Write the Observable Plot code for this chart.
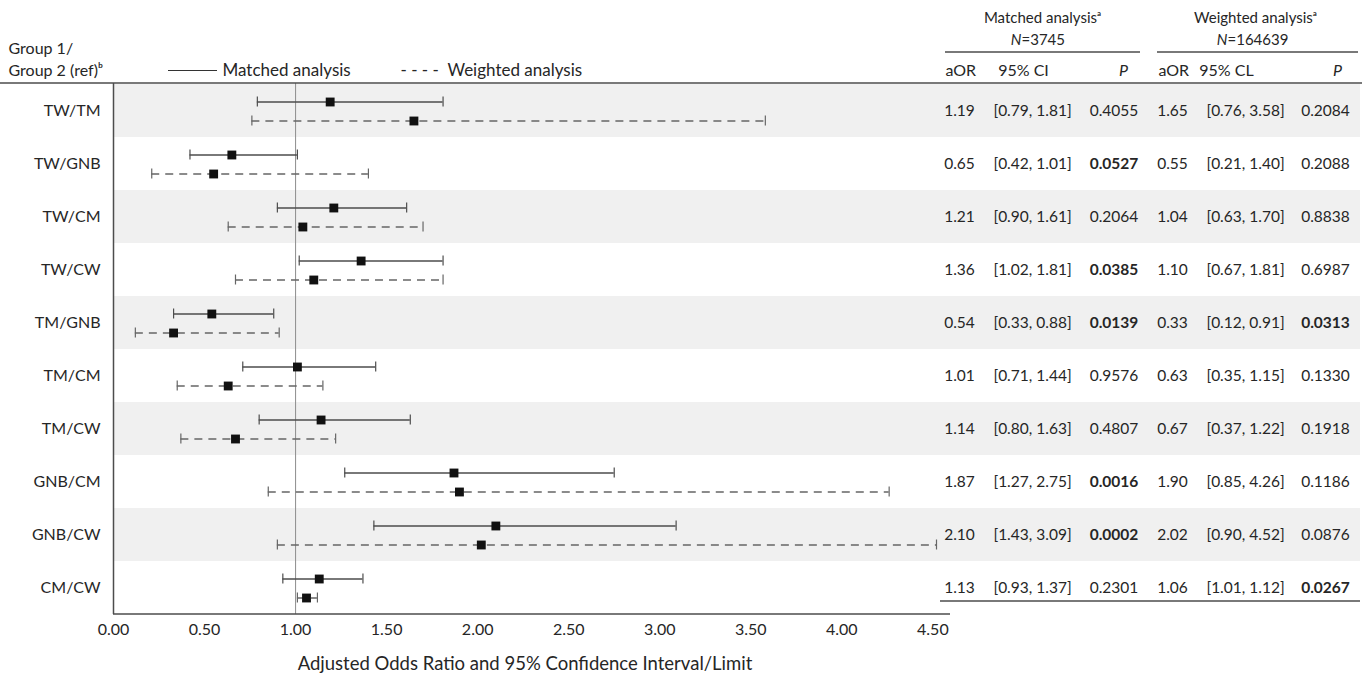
<!DOCTYPE html>
<html><head><meta charset="utf-8">
<script src="https://cdn.jsdelivr.net/npm/d3@7"></script>
<script src="https://cdn.jsdelivr.net/npm/@observablehq/plot@0.6"></script>
<style>
html,body{margin:0;padding:0;background:#fff;}
#chart{width:1365px;height:677px;position:relative;}
</style></head><body><div id="chart"></div>
<script>
// ---- data ----
const groups = ["TW/TM","TW/GNB","TW/CM","TW/CW","TM/GNB","TM/CM","TM/CW","GNB/CM","GNB/CW","CM/CW"];
const matchedAOR = [1.19,0.65,1.21,1.36,0.54,1.01,1.14,1.87,2.10,1.13];
const matchedLo  = [0.79,0.42,0.90,1.02,0.33,0.71,0.80,1.27,1.43,0.93];
const matchedHi  = [1.81,1.01,1.61,1.81,0.88,1.44,1.63,2.75,3.09,1.37];
const matchedP   = ["0.4055","0.0527","0.2064","0.0385","0.0139","0.9576","0.4807","0.0016","0.0002","0.2301"];
const matchedBold = [false,true,false,true,true,false,false,true,true,false];
const weightedAOR = [1.65,0.55,1.04,1.10,0.33,0.63,0.67,1.90,2.02,1.06];
const weightedLo  = [0.76,0.21,0.63,0.67,0.12,0.35,0.37,0.85,0.90,1.01];
const weightedHi  = [3.58,1.40,1.70,1.81,0.91,1.15,1.22,4.26,4.52,1.12];
const weightedP   = ["0.2084","0.2088","0.8838","0.6987","0.0313","0.1330","0.1918","0.1186","0.0876","0.0267"];
const weightedBold = [false,false,false,false,true,false,false,false,false,true];
const xTicks = [0,0.5,1,1.5,2,2.5,3,3.5,4,4.5];
const xMax = 4.52;
const xTitle = "Adjusted Odds Ratio and 95% Confidence Interval/Limit";
const matchedN = "3745", weightedN = "164639";

// ---- tables built from the arrays ----
const f2 = d3.format(".2f");
const shaded = groups.filter((_, i) => i % 2 === 0);
const matched = groups.map((g, i) => ({group: g, aor: matchedAOR[i], lo: matchedLo[i], hi: matchedHi[i], p: matchedP[i], bold: matchedBold[i]}));
const weighted = groups.map((g, i) => ({group: g, aor: weightedAOR[i], lo: weightedLo[i], hi: weightedHi[i], p: weightedP[i], bold: weightedBold[i]}));
const ci = d => `[${f2(d.lo)}, ${f2(d.hi)}]`;

const W = 1365, H = 677, mL = 113, mR = 429, mT = 83, mB = 63;
const ink = "#262626";
const line = "#4d4d4d", dash = "#666";

const txt = (label, o) => Plot.text([label], {text: d => d, fill: ink, lineAnchor: "middle", ...o});
const TL = {frameAnchor: "top-left"}, TR = {frameAnchor: "top-right"};

const body = (rows, o) => Plot.text(rows, {y: "group", frameAnchor: "right", textAnchor: "middle", lineAnchor: "middle", fill: ink, fontSize: 15.5, ...o});

const plot = Plot.plot({
  width: W, height: H,
  marginLeft: mL, marginRight: mR, marginTop: mT, marginBottom: mB,
  style: {fontFamily: "Lato, 'Open Sans', sans-serif", fontSize: "16px", color: ink, background: "#fff"},
  x: {domain: [0, xMax], ticks: xTicks, tickFormat: ".2f", tickSize: 0, tickPadding: 9, label: null},
  y: {domain: groups, padding: 0, tickSize: 0, tickPadding: 13, label: null},
  marks: [
    Plot.cell(shaded, {y: d => d, fill: "#f0f0f0", insetRight: -(W - 5 - (W - mR))}),
    Plot.ruleX([1], {stroke: "#8c8c8c", strokeWidth: 1}),
    Plot.ruleX([0], {stroke: line, strokeWidth: 1.5}),
    // matched (solid)
    Plot.ruleY(matched, {y: "group", x1: "lo", x2: "hi", dy: -9, stroke: line, strokeWidth: 1.3}),
    Plot.tickX(matched, {y: "group", x: "lo", insetTop: 12.5, insetBottom: 30.5, stroke: line, strokeWidth: 1.2}),
    Plot.tickX(matched, {y: "group", x: "hi", insetTop: 12.5, insetBottom: 30.5, stroke: line, strokeWidth: 1.2}),
    // weighted (dashed)
    Plot.ruleY(weighted, {y: "group", x1: "lo", x2: "hi", dy: 10, stroke: dash, strokeWidth: 1.5, strokeDasharray: "8,6"}),
    Plot.tickX(weighted, {y: "group", x: "lo", insetTop: 31.5, insetBottom: 11.5, stroke: dash, strokeWidth: 1.2}),
    Plot.tickX(weighted, {y: "group", x: "hi", insetTop: 31.5, insetBottom: 11.5, stroke: dash, strokeWidth: 1.2}),
    Plot.dot(matched, {y: "group", x: "aor", dy: -9, symbol: "square", r: 5, fill: "#111", stroke: "none"}),
    Plot.dot(weighted, {y: "group", x: "aor", dy: 10, symbol: "square", r: 5, fill: "#111", stroke: "none"}),
    // axis title
    txt(xTitle, {frameAnchor: "bottom", dy: 50, fontSize: 18.5}),
    // left header + legend
    txt("Group 1/", {...TL, dx: -105, dy: -35, textAnchor: "start"}),
    txt("Group 2 (ref)\u1D47", {...TL, dx: -105, dy: -13, textAnchor: "start"}),
    txt("Matched analysis", {...TL, dx: 109, dy: -13, textAnchor: "start", fontSize: 17}),
    txt("- - - -", {...TL, dx: 287, dy: -13, textAnchor: "start", fontSize: 17}),
    txt("Weighted analysis", {...TL, dx: 334, dy: -13, textAnchor: "start", fontSize: 17}),
    // table headers
    txt("Matched analysis\u1D43", {...TR, dx: 106, dy: -65, textAnchor: "middle", fontSize: 15}),
    txt("N", {...TR, dx: 85, dy: -43, textAnchor: "end", fontStyle: "italic", fontSize: 15}),
    txt("=" + matchedN, {...TR, dx: 85, dy: -43, textAnchor: "start", fontSize: 15}),
    txt("Weighted analysis\u1D43", {...TR, dx: 319, dy: -65, textAnchor: "middle", fontSize: 15}),
    txt("N", {...TR, dx: 291, dy: -43, textAnchor: "end", fontStyle: "italic", fontSize: 15}),
    txt("=" + weightedN, {...TR, dx: 291, dy: -43, textAnchor: "start", fontSize: 15}),
    txt("aOR", {...TR, dx: 9, dy: -13, textAnchor: "start"}),
    txt("95% CI", {...TR, dx: 87, dy: -13, textAnchor: "middle"}),
    txt("P", {...TR, dx: 187, dy: -13, textAnchor: "middle", fontStyle: "italic"}),
    txt("aOR", {...TR, dx: 222, dy: -13, textAnchor: "start"}),
    txt("95% CL", {...TR, dx: 290, dy: -13, textAnchor: "middle"}),
    txt("P", {...TR, dx: 401, dy: -13, textAnchor: "middle", fontStyle: "italic"}),
    // table body
    body(matched, {text: d => f2(d.aor), dx: 23}),
    body(matched, {text: ci, dx: 96}),
    body(matched.filter(d => !d.bold), {text: "p", dx: 177.5}),
    body(matched.filter(d => d.bold), {text: "p", dx: 177.5, fontWeight: "bold"}),
    body(weighted, {text: d => f2(d.aor), dx: 236}),
    body(weighted, {text: ci, dx: 309}),
    body(weighted.filter(d => !d.bold), {text: "p", dx: 389}),
    body(weighted.filter(d => d.bold), {text: "p", dx: 389, fontWeight: "bold"})
  ]
});

// decorative rules (table borders, axis baseline, legend swatch)
const svg = d3.select(plot);
const rules = [
  [0, W - 3, mT],
  [945, 1140, 52],
  [1157, 1358, 52],
  [940, 1360, 601],
  [mL, 950, H - mB]
];
svg.append("g").attr("stroke", line).attr("stroke-width", 1.5)
  .selectAll("line").data(rules).join("line")
  .attr("x1", d => d[0]).attr("x2", d => d[1]).attr("y1", d => d[2]).attr("y2", d => d[2]);
svg.append("line").attr("x1", 168).attr("x2", 217).attr("y1", 70.5).attr("y2", 70.5)
  .attr("stroke", "#333").attr("stroke-width", 1.2);

document.getElementById("chart").appendChild(plot);
</script></body></html>
